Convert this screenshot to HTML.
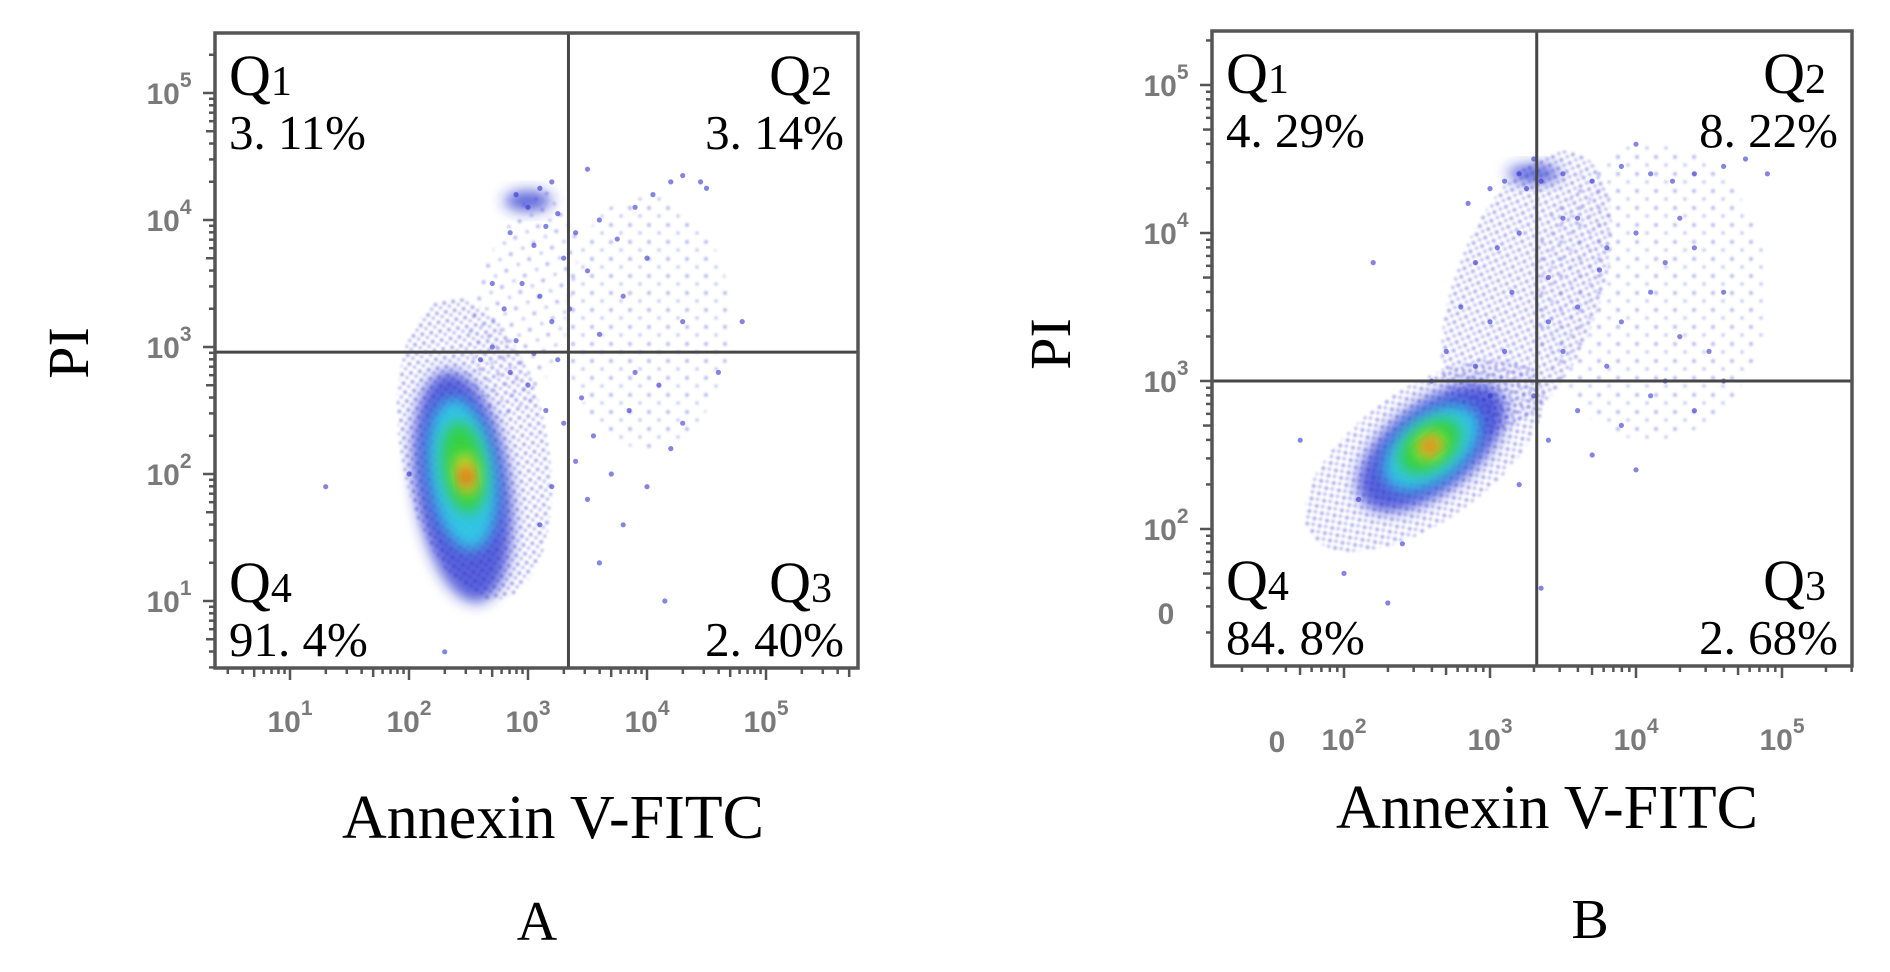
<!DOCTYPE html>
<html><head><meta charset="utf-8">
<style>
html,body{margin:0;padding:0;background:#fff;}
svg{display:block;}
.q{font-family:"Liberation Serif",serif;fill:#000;}
.tk{font-family:"Liberation Sans",sans-serif;fill:#7a7a7a;font-weight:bold;}
</style></head>
<body>
<svg id="fig" width="1890" height="972" viewBox="0 0 1890 972" xmlns="http://www.w3.org/2000/svg">
<defs>
<filter id="blur" x="-50%" y="-50%" width="200%" height="200%"><feGaussianBlur stdDeviation="7"/></filter>
<filter id="blur2" x="-50%" y="-50%" width="200%" height="200%"><feGaussianBlur stdDeviation="1.2"/></filter>
<pattern id="dots" width="9" height="9" patternUnits="userSpaceOnUse">
<circle cx="2" cy="3" r="1.7" fill="#3434d0"/><circle cx="6.5" cy="7" r="1.5" fill="#5050e0"/>
</pattern>
<pattern id="dots2" width="19" height="17" patternUnits="userSpaceOnUse">
<circle cx="3" cy="4" r="1.7" fill="#4545d5"/><circle cx="13" cy="12" r="1.5" fill="#6060e0"/>
</pattern>
</defs>
</svg>
<script>
// ---------- data ----------
const xTickDecadesA = [1, 2, 3, 4, 5];
const yTickDecadesA = [1, 2, 3, 4, 5];
const xTickDecadesB = [2, 3, 4, 5];
const yTickDecadesB = [2, 3, 4, 5];
const quadrantsA = {x: 3.34, y: 2.96};
const quadrantsB = {x: 3.32, y: 3.0};
const quadLabelsA = ["3. 11%", "3. 14%", "2. 40%", "91. 4%"];
const quadLabelsB = ["4. 29%", "8. 22%", "2. 68%", "84. 8%"];
// density blobs (decades): cx, cy, rx, ry, rotation(deg), level
const blobCxA = [2.95, 4.0, 2.55, 2.45, 2.45, 2.46, 2.48, 2.48, 3.0];
const blobCyA = [3.3, 3.2, 2.2, 1.9, 2.0, 2.05, 2.0, 1.98, 4.15];
const blobRxA = [0.4, 0.7, 0.62, 0.4, 0.28, 0.18, 0.09, 0.05, 0.2];
const blobRyA = [0.95, 1.0, 1.2, 0.92, 0.6, 0.36, 0.16, 0.08, 0.08];
const blobRotA = [15, 0, -10, -8, -8, -8, -8, -8, 0];
const blobLvlA = [6, 6, 0, 1, 2, 3, 4, 5, 1];
const blobCxB = [3.25, 4.1, 2.55, 2.6, 2.6, 2.59, 2.59, 2.59, 3.3];
const blobCyB = [3.6, 3.6, 2.5, 2.55, 2.55, 2.56, 2.56, 2.56, 4.4];
const blobRxB = [0.5, 0.8, 0.95, 0.6, 0.38, 0.24, 0.1, 0.05, 0.18];
const blobRyB = [1.0, 1.0, 0.45, 0.3, 0.22, 0.15, 0.08, 0.04, 0.06];
const blobRotB = [20, 0, -35, -38, -38, -38, -38, -38, 0];
const blobLvlB = [0, 6, 0, 1, 2, 3, 4, 5, 1];
// scattered events (decades)
const ptsXA = [2.9,3.0,3.1,3.2,2.85,3.05,3.15,3.25,3.3,2.95,3.1,2.8,3.2,3.35,2.7,2.9,3.05,3.25,3.5,3.6,3.75,3.9,4.05,4.2,4.3,4.45,4.5,4.0,3.8,4.3,3.6,3.9,3.45,3.55,3.7,3.85,4.1,4.3,3.4,3.5,3.6,4.0,4.2,4.6,3.3,3.15,3.0,2.85,2.6,2.7,3.4,4.8,3.5,2.0,1.3,3.8,4.15,2.3,3.1,3.2];
const ptsYA = [4.2,4.1,4.25,4.3,3.9,3.8,3.95,4.05,3.7,3.5,3.4,3.3,3.2,3.3,3.0,3.05,2.95,2.9,3.6,4.0,3.85,4.1,4.2,4.3,4.35,4.3,4.25,3.7,3.4,3.2,3.1,2.8,2.6,2.3,2.0,2.5,2.7,2.4,2.1,1.8,1.3,1.9,2.2,2.8,2.4,2.5,2.7,2.8,2.9,3.5,3.9,3.2,4.4,2.0,1.9,1.6,1.0,0.6,1.6,1.9];
const ptsXB = [3.0,3.1,3.2,3.25,3.35,3.5,3.7,3.9,4.1,4.25,4.4,4.6,4.75,3.6,3.8,4.0,4.2,4.4,4.6,3.4,3.6,3.9,4.1,4.3,4.5,3.5,3.8,4.2,4.6,3.3,3.6,3.9,4.1,4.4,3.4,3.7,4.0,3.2,2.9,2.8,3.0,3.15,2.7,2.9,3.1,2.6,3.05,3.2,2.85,3.3,4.0,4.9,2.2,3.5,3.0,3.4,3.75,4.3,2.4,2.1,1.7,2.0,2.3,3.35];
const ptsYB = [4.3,4.35,4.4,4.3,4.35,4.4,4.35,4.45,4.4,4.35,4.4,4.45,4.5,4.1,3.9,4.0,3.8,3.9,3.6,3.7,3.5,3.4,3.6,3.3,3.2,3.2,3.1,3.0,3.0,2.9,2.8,2.7,2.9,2.8,2.6,2.5,2.4,2.3,3.8,3.5,3.4,3.6,3.2,3.1,3.2,3.0,3.9,4.0,4.2,4.5,4.6,4.4,3.8,4.1,2.9,3.4,3.75,4.1,1.9,2.2,2.6,1.7,1.5,1.6];

// ---------- helpers ----------
const NS = "http://www.w3.org/2000/svg";
const svg = document.getElementById("fig");
function mk(tag, attrs, parent) {
  const e = document.createElementNS(NS, tag);
  for (const k in attrs) e.setAttribute(k, attrs[k]);
  (parent || svg).appendChild(e);
  return e;
}
const levelFill = ["url(#dots)", "rgba(35,45,205,0.75)", "#2fd0e6", "#36d23a", "#f0e020", "#e8301c", "url(#dots2)"];
const levelOp = [0.55, 1, 0.9, 0.95, 0.95, 1, 0.5];

function panel(cfg) {
  const g = mk("g", {});
  
  
  const X = d => cfg.x0 + (d - cfg.xd0) * cfg.xs;
  const Y = d => cfg.y0 - (d - cfg.yd0) * cfg.ys;
  const clipId = cfg.name + "-clip";
  const cp = mk("clipPath", {id: clipId}, g);
  mk("rect", {x: cfg.L, y: cfg.T, width: cfg.R - cfg.L, height: cfg.B - cfg.T}, cp);
  const plot = mk("g", {"clip-path": "url(#" + clipId + ")"}, g);
  
  
  for (let i = 0; i < cfg.bcx.length; i++) {
    const cx = X(cfg.bcx[i]), cy = Y(cfg.bcy[i]);
    const lv = cfg.blv[i];
    const el = mk("ellipse", {cx: cx, cy: cy, rx: cfg.brx[i] * cfg.xs, ry: cfg.bry[i] * cfg.ys,
      transform: "rotate(" + cfg.brot[i] + " " + cx + " " + cy + ")",
      fill: levelFill[lv], opacity: levelOp[lv], filter: (lv === 0 || lv === 6) ? "url(#blur2)" : "url(#blur)"}, plot);
    
    
  }
  for (let i = 0; i < cfg.px.length; i++) {
    const c = mk("circle", {cx: X(cfg.px[i]), cy: Y(cfg.py[i]), r: 2.6, fill: "rgba(50,50,205,0.6)"}, plot);
    
    
  }
  const qx = X(cfg.quad.x), qy = Y(cfg.quad.y);
  const vl = mk("line", {x1: qx, y1: cfg.T, x2: qx, y2: cfg.B, stroke: "#474747", "stroke-width": 3}, g);
  
  
  const hl = mk("line", {x1: cfg.L, y1: qy, x2: cfg.R, y2: qy, stroke: "#474747", "stroke-width": 3}, g);
  
  
  const fr = mk("rect", {x: cfg.L, y: cfg.T, width: cfg.R - cfg.L, height: cfg.B - cfg.T, fill: "none", stroke: "#555", "stroke-width": 3.5}, g);
  
  
  const tg = mk("g", {stroke: "#555", "stroke-width": 2.5}, g);
  
  
  for (let d = Math.floor(cfg.xd0 - 3); d < 7; d++) {
    for (let m = 1; m < 10; m++) {
      const px = X(d + Math.log10(m));
      if (px < cfg.L || px > cfg.R) continue;
      const len = m === 1 ? 12 : (m === 5 ? 9 : 6);
      mk("line", {x1: px, y1: cfg.B, x2: px, y2: cfg.B + len}, tg);
    }
  }
  for (let d = Math.floor(cfg.yd0 - 3); d < 7; d++) {
    for (let m = 1; m < 10; m++) {
      const py = Y(d + Math.log10(m));
      if (py < cfg.T || py > cfg.B) continue;
      const len = m === 1 ? 12 : (m === 5 ? 9 : 6);
      mk("line", {x1: cfg.L, y1: py, x2: cfg.L - len, y2: py}, tg);
    }
  }
  cfg.xt.forEach(d => {
    const t = mk("text", {x: X(d), y: cfg.B + cfg.xlabDy, "font-size": 30, "text-anchor": "middle", class: "tk"}, g);
    
    
    t.textContent = "10";
    const s = mk("tspan", {dy: -17, "font-size": 21}, t);
    s.textContent = String(d);
  });
  cfg.yt.forEach(d => {
    const t = mk("text", {x: cfg.L - 46, y: Y(d) + 11, "font-size": 30, "text-anchor": "middle", class: "tk"}, g);
    
    
    t.textContent = "10";
    const s = mk("tspan", {dy: -17, "font-size": 21}, t);
    s.textContent = String(d);
  });
  (cfg.zero || []).forEach(z => {
    const t = mk("text", {x: z[0], y: z[1], "font-size": 30, "text-anchor": "middle", class: "tk"}, g);
    
    
    t.textContent = "0";
  });
  const qpos = [[cfg.L + 14, cfg.T + 62, "start", "1"], [cfg.R - 14, cfg.T + 62, "end", "2"],
                [cfg.R - 14, cfg.B - 66, "end", "3"], [cfg.L + 14, cfg.B - 66, "start", "4"]];
  qpos.forEach((p, i) => {
    const shift = (i === 1 || i === 2) ? -12 : 0;
    const t = mk("text", {x: p[0] + shift, y: p[1], "font-size": 58, "text-anchor": p[2], class: "q"}, g);
    
    
    t.textContent = "Q";
    const s = mk("tspan", {"font-size": 42}, t);
    s.textContent = p[3];
    const v = mk("text", {x: p[0], y: p[1] + 54, "font-size": 49, "text-anchor": p[2], class: "q"}, g);
    
    
    v.textContent = cfg.ql[i];
  });
  const xt = mk("text", {x: cfg.xtitle[0], y: cfg.xtitle[1], "font-size": 62, "text-anchor": "middle", class: "q"}, g);
  
  
  xt.textContent = "Annexin V-FITC";
  const yt = mk("text", {x: 0, y: 0, "font-size": 58, "text-anchor": "middle", class: "q",
    transform: "translate(" + cfg.ytitle[0] + "," + cfg.ytitle[1] + ") rotate(-90)"}, g);
  
  
  yt.textContent = "PI";
  const pl = mk("text", {x: cfg.plabel[0], y: cfg.plabel[1], "font-size": 56, "text-anchor": "middle", class: "q"}, g);
  
  
  pl.textContent = cfg.letter;
}

panel({name: "panel-a", letter: "A", L: 215, R: 858, T: 33, B: 668,
  x0: 290, xd0: 1, xs: 119, y0: 601, yd0: 1, ys: 127, xlabDy: 64,
  quad: quadrantsA, ql: quadLabelsA, xt: xTickDecadesA, yt: yTickDecadesA,
  bcx: blobCxA, bcy: blobCyA, brx: blobRxA, bry: blobRyA, brot: blobRotA, blv: blobLvlA,
  px: ptsXA, py: ptsYA, xtitle: [553, 838], ytitle: [88, 353], plabel: [537, 940]});
panel({name: "panel-b", letter: "B", L: 1212, R: 1852, T: 31, B: 666,
  x0: 1490, xd0: 3, xs: 146, y0: 381, yd0: 3, ys: 148, xlabDy: 84,
  quad: quadrantsB, ql: quadLabelsB, xt: xTickDecadesB, yt: yTickDecadesB,
  bcx: blobCxB, bcy: blobCyB, brx: blobRxB, bry: blobRyB, brot: blobRotB, blv: blobLvlB,
  px: ptsXB, py: ptsYB, xtitle: [1547, 828], ytitle: [1070, 344], plabel: [1590, 938],
  zero: [[1277, 752], [1166, 624]]});
</script>
</body></html>
